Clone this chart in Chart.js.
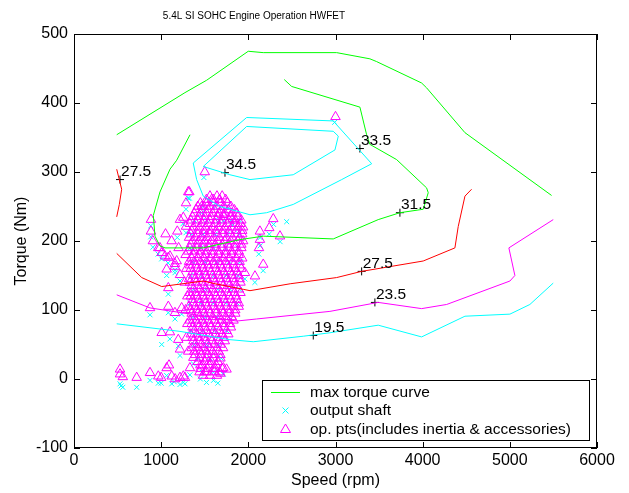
<!DOCTYPE html>
<html>
<head>
<meta charset="UTF-8">
<title>5.4L SI SOHC Engine Operation HWFET</title>
<script src="https://cdn.jsdelivr.net/npm/chart.js"></script>
<style>
  body { margin: 0; background: #fff; }
  canvas { display: block; }
</style>
</head>
<body>
<canvas id="chart" width="629" height="493"></canvas>
<script>
// --- data (speed rpm, torque Nm) ---
const maxTorqueCurve = [[490,354],[1273,415],[1522,433],[1999,475],[2171,473],[3013,473],[3395,464],[3472,460],[3988,429],[4045,422],[4485,357],[5479,266]];
const eff315 = [[2412,434],[2497,424],[3280,394],[3357,354],[3395,340],[3701,318],[4045,277],[4064,270],[4006,246],[3739,241],[3490,231],[2974,203],[2171,207],[1904,202],[1483,190],[1368,190],[1044,190],[986,193],[929,207],[910,237],[986,271],[1101,304],[1178,317],[1331,354]];
const eff335 = [[1368,313],[1981,379],[2974,374],[3415,312],[3071,289],[2515,253],[2210,241],[2019,238],[1675,250],[1483,265],[1407,289],[1368,313]];
const eff345 = [[1483,308],[1981,366],[2974,359],[3032,352],[2994,332],[2515,296],[2019,289],[1789,296],[1483,308]];
const eff275a = [[490,304],[547,275],[520,253],[490,235]];
const eff275b = [[490,182],[777,147],[1006,134],[1483,142],[1620,138],[1942,130],[2019,128],[2480,138],[3013,147],[3300,156],[4006,171],[4370,190],[4408,221],[4485,265],[4561,275]];
const eff235 = [[490,122],[872,103],[1866,84],[2095,87],[2936,98],[3490,111],[3988,102],[4275,108],[5001,142],[5058,150],[4989,190],[5498,231]];
const eff195 = [[490,80],[1216,69],[1789,57],[2057,54],[2630,62],[2936,67],[3490,78],[3988,61],[4485,91],[5001,94],[5230,108],[5498,139]];

const labelSpeed  = [528, 1732, 3280, 3739, 3300, 3452, 2745];
const labelTorque = [289, 299, 334, 241, 156, 111, 63];
const labelText   = ['27.5', '34.5', '33.5', '31.5', '27.5', '23.5', '19.5'];

// op. pts, dense block: [torque, [speeds]]
const opRows = [
  [265, [1560,1640,1700]],
  [255, [1450,1520,1600,1680,1760]],
  [245, [1400,1470,1540,1610,1690,1770,1840]],
  [235, [1360,1430,1500,1570,1650,1720,1800,1880]],
  [225, [1330,1400,1470,1540,1620,1690,1760,1840,1910]],
  [215, [1350,1420,1490,1560,1630,1710,1780,1860,1930]],
  [205, [1320,1390,1460,1530,1600,1670,1750,1820,1900]],
  [195, [1340,1410,1480,1550,1620,1700,1770,1850,1920]],
  [185, [1310,1380,1450,1520,1590,1660,1740,1810,1890]],
  [175, [1350,1420,1490,1560,1630,1710,1780,1860,1930]],
  [165, [1330,1400,1470,1540,1610,1680,1760,1830,1900]],
  [155, [1360,1430,1500,1570,1650,1720,1800,1870]],
  [145, [1320,1390,1460,1530,1600,1680,1750,1830,1900]],
  [135, [1350,1420,1490,1560,1630,1710,1780,1860]],
  [125, [1330,1400,1470,1540,1610,1690,1760,1840,1910]],
  [115, [1360,1430,1500,1570,1650,1720,1800,1870]],
  [105, [1320,1390,1460,1530,1600,1680,1750,1830,1890]],
  [95,  [1350,1420,1490,1560,1630,1710,1780,1850]],
  [85,  [1330,1400,1470,1540,1610,1690,1760,1830]],
  [75,  [1360,1430,1500,1570,1650,1720,1800]],
  [65,  [1340,1410,1480,1550,1620,1700,1770]],
  [55,  [1370,1440,1510,1580,1660,1730]],
  [45,  [1350,1420,1490,1560,1640,1710]],
  [35,  [1390,1460,1530,1610,1680]],
  [25,  [1420,1500,1580,1650]],
  [15,  [1450,1530,1600,1700]],
  [5,   [1480,1560,1640]]
];
// second, staggered layer of the same block
const opRows2 = [
  [260, [1520,1600,1670,1740]],
  [250, [1420,1490,1560,1640,1720,1800]],
  [240, [1380,1450,1520,1590,1660,1730,1810,1870]],
  [230, [1340,1420,1490,1560,1630,1700,1780,1850,1920]],
  [220, [1370,1440,1510,1590,1660,1730,1810,1880,1940]],
  [210, [1340,1420,1490,1560,1640,1710,1790,1870,1930]],
  [200, [1360,1430,1500,1580,1650,1730,1800,1880,1940]],
  [190, [1330,1410,1480,1550,1630,1700,1780,1850,1920]],
  [180, [1370,1440,1510,1590,1660,1740,1810,1890]],
  [170, [1320,1380,1450,1520,1600,1670,1740,1820,1900]],
  [160, [1340,1410,1480,1550,1630,1700,1770,1850,1920]],
  [150, [1370,1440,1510,1590,1660,1740,1810,1890]],
  [140, [1330,1400,1470,1540,1620,1690,1770,1840,1910]],
  [130, [1370,1440,1510,1590,1660,1740,1820,1890]],
  [120, [1340,1410,1480,1560,1630,1710,1780,1860]],
  [110, [1370,1440,1510,1590,1660,1740,1820,1890]],
  [100, [1340,1410,1480,1550,1630,1700,1780,1850]],
  [90,  [1370,1440,1510,1590,1670,1740,1810]],
  [80,  [1350,1420,1490,1560,1640,1720,1790]],
  [70,  [1380,1450,1520,1600,1670,1750]],
  [60,  [1360,1430,1500,1570,1650,1720]],
  [50,  [1390,1460,1530,1610,1680]],
  [40,  [1380,1450,1520,1590,1660]],
  [30,  [1440,1520,1600,1680]],
  [20,  [1470,1550,1630]],
  [10,  [1440,1520,1610,1670]]
];
// op. pts, scattered ones: [speed, torque]
const opSparse = [
  [3000,380],[1500,300],[883,231],[883,214],[905,200],[967,190],[1006,183],[1082,176],[1158,167],
  [1311,271],[1254,234],[1185,214],[1285,221],[1323,271],[1285,255],[1465,250],[1579,260],[1713,238],
  [1820,232],[2286,232],[2240,219],[2363,207],[2133,214],[2133,202],[2122,190],[2171,166],[1961,154],
  [2076,149],[872,103],[1006,67],[1101,68],[1196,57],[1216,43],[1063,159],[1158,163],[1216,151],
  [1082,132],[1082,105],[1158,96],[1235,103],[1330,16],[1369,31],[1713,16],[1254,4],[1216,231],
  [986,190],[1044,178],[1101,178],[1178,171],[1120,200],[1200,190],[1050,210],
  [528,14],[528,7],[560,3],[719,2],[872,9],[967,4],[1063,16],[1090,20],[1121,4],[1216,2],[1273,2],
  [1000,2],[1160,0],[1450,20],[1500,10],[1550,25],[1620,15],[1680,8],[1750,14],
  [1280,180],[1290,160],[1270,140],[1300,120],[1280,100],[1300,80],[1290,60],[1310,40]
];
// output shaft: [torque, [speeds]] for the block, then scattered ones
const shaftRows = [
  [250, [1480,1620,1760]],
  [230, [1380,1520,1660,1800,1900]],
  [210, [1350,1480,1620,1760,1890]],
  [190, [1330,1460,1600,1740,1880]],
  [170, [1360,1500,1640,1780,1910]],
  [150, [1340,1470,1610,1750,1880]],
  [130, [1370,1510,1650,1790,1900]],
  [110, [1330,1460,1600,1740,1870]],
  [90,  [1360,1500,1640,1780]],
  [70,  [1340,1470,1610,1750]],
  [50,  [1380,1520,1660]],
  [30,  [1420,1560,1690]],
  [10,  [1470,1600]]
];
const shaftSparse = [
  [2990,372],[1490,292],[880,222],[880,206],[905,191],[965,181],[1005,174],[1080,168],[1160,158],
  [1310,262],[1250,225],[1185,205],[1285,212],[1325,262],[1285,246],[1465,241],[1715,229],[1820,223],
  [2290,224],[2440,228],[2240,210],[2365,199],[2135,205],[2135,193],[2120,181],[2170,157],[1960,145],
  [2075,140],[872,93],[1006,50],[1100,58],[1196,48],[1216,34],[1063,150],[1158,154],[1216,142],
  [1082,123],[1082,96],[1158,87],[1235,94],[1330,6],[1369,22],[1713,7],[1254,-5],
  [528,-7],[540,-10],[560,-12],[719,-12],[872,-2],[967,-6],[1063,5],[1121,-7],[1216,-8],[1273,-7],
  [1150,-4],[1000,-6],[1450,0],[1520,-5],[1600,-2],[1650,-6]
];

function toXY(list) { return list.map(p => ({ x: p[0], y: p[1] })); }
function rowsToXY(rows) {
  const out = [];
  rows.forEach(r => r[1].forEach(s => out.push({ x: s, y: r[0] })));
  return out;
}

const FONT = '"Liberation Sans", Arial, sans-serif';

function lineSet(pts, color) {
  return { data: toXY(pts), showLine: true, borderColor: color, borderWidth: 1,
           pointRadius: 0, fill: false, tension: 0, order: 0 };
}

// frame, ticks, titles, contour labels, legend
const decor = {
  id: 'decor',
  afterDraw(chart) {
    const ctx = chart.ctx, a = chart.chartArea;
    const xs = chart.scales.x, ys = chart.scales.y;
    ctx.save();
    ctx.strokeStyle = '#000';
    ctx.lineWidth = 1;
    ctx.strokeRect(Math.round(a.left) + 0.5, Math.round(a.top) + 0.5,
                   Math.round(a.right - a.left) - 1, Math.round(a.bottom - a.top) - 1);
    ctx.beginPath();
    xs.ticks.forEach(t => {
      const px = Math.round(xs.getPixelForValue(t.value)) + 0.5;
      ctx.moveTo(px, a.bottom); ctx.lineTo(px, a.bottom - 6);
      ctx.moveTo(px, a.top); ctx.lineTo(px, a.top + 6);
    });
    ys.ticks.forEach(t => {
      const py = Math.round(ys.getPixelForValue(t.value)) + 0.5;
      ctx.moveTo(a.left, py); ctx.lineTo(a.left + 6, py);
      ctx.moveTo(a.right, py); ctx.lineTo(a.right - 6, py);
    });
    ctx.stroke();

    // contour level text
    ctx.fillStyle = '#000';
    ctx.font = '15.5px ' + FONT;
    ctx.textAlign = 'left';
    ctx.textBaseline = 'middle';
    labelText.forEach((txt, i) => {
      const px = xs.getPixelForValue(labelSpeed[i]);
      const py = ys.getPixelForValue(labelTorque[i]);
      ctx.fillText(txt, px + 1, py - 8);
    });

    // titles
    ctx.font = '10px ' + FONT;
    ctx.textAlign = 'center';
    ctx.fillText('5.4L SI SOHC Engine Operation HWFET', 254, 16);
    ctx.font = '16px ' + FONT;
    ctx.fillText('Speed (rpm)', (a.left + a.right) / 2, 481);
    ctx.save();
    ctx.translate(22, (a.top + a.bottom) / 2);
    ctx.rotate(-Math.PI / 2);
    ctx.fillText('Torque (Nm)', 0, 0);
    ctx.restore();

    // legend
    const lx = 262.5, ly = 380.5, lw = 327, lh = 60;
    ctx.fillStyle = '#fff';
    ctx.fillRect(lx, ly, lw, lh);
    ctx.strokeStyle = '#000';
    ctx.strokeRect(lx, ly, lw, lh);
    const cx = 285.5;
    ctx.strokeStyle = '#00ff00';
    ctx.beginPath(); ctx.moveTo(271, 392.5); ctx.lineTo(300, 392.5); ctx.stroke();
    ctx.strokeStyle = '#00ffff';
    ctx.beginPath();
    ctx.moveTo(cx - 3, 407.5); ctx.lineTo(cx + 3, 413.5);
    ctx.moveTo(cx + 3, 407.5); ctx.lineTo(cx - 3, 413.5);
    ctx.stroke();
    ctx.strokeStyle = '#ff00ff';
    ctx.beginPath();
    ctx.moveTo(cx, 424); ctx.lineTo(cx + 5, 432.5); ctx.lineTo(cx - 5, 432.5); ctx.closePath();
    ctx.stroke();
    ctx.fillStyle = '#000';
    ctx.font = '15.5px ' + FONT;
    ctx.textAlign = 'left';
    ctx.fillText('max torque curve', 310, 392.5);
    ctx.fillText('output shaft', 310, 411);
    ctx.fillText('op. pts(includes inertia & accessories)', 310, 429.5);
    ctx.restore();
  }
};

new Chart(document.getElementById('chart').getContext('2d'), {
  type: 'scatter',
  data: {
    datasets: [
      lineSet(maxTorqueCurve, '#00ff00'),
      lineSet(eff315, '#00ff00'),
      lineSet(eff335, '#00ffff'),
      lineSet(eff345, '#00ffff'),
      lineSet(eff275a, '#ff0000'),
      lineSet(eff275b, '#ff0000'),
      lineSet(eff235, '#ff00ff'),
      lineSet(eff195, '#00ffff'),
      {
        data: labelSpeed.map((s, i) => ({ x: s, y: labelTorque[i] })),
        pointStyle: 'cross', pointRadius: 4, borderColor: '#000', borderWidth: 1,
        backgroundColor: '#000', order: 0
      },
      {
        data: rowsToXY(opRows).concat(rowsToXY(opRows2), toXY(opSparse)),
        pointStyle: 'triangle', pointRadius: 5.5, borderColor: '#ff00ff', borderWidth: 1,
        backgroundColor: 'rgba(0,0,0,0)', order: 1
      },
      {
        data: rowsToXY(shaftRows).concat(toXY(shaftSparse)),
        pointStyle: 'crossRot', pointRadius: 3.5, borderColor: '#00ffff', borderWidth: 1,
        backgroundColor: '#00ffff', order: 2
      }
    ]
  },
  options: {
    responsive: false,
    animation: false,
    devicePixelRatio: 1,
    layout: { padding: { top: 34, right: 32, left: 0, bottom: 0 } },
    plugins: { legend: { display: false }, tooltip: { enabled: false }, title: { display: false } },
    scales: {
      x: {
        type: 'linear', min: 0, max: 6000,
        afterFit: s => { s.height = 45; },
        ticks: { stepSize: 1000, color: '#000', padding: 3, maxRotation: 0,
                 callback: v => String(v),
                 font: { size: 16, family: FONT } },
        grid: { display: false, drawTicks: false },
        border: { display: false }
      },
      y: {
        type: 'linear', min: -100, max: 500,
        afterFit: s => { s.width = 74; },
        ticks: { stepSize: 100, color: '#000', padding: 6,
                 callback: v => String(v),
                 font: { size: 16, family: FONT } },
        grid: { display: false, drawTicks: false },
        border: { display: false }
      }
    }
  },
  plugins: [decor]
});
</script>
</body>
</html>
